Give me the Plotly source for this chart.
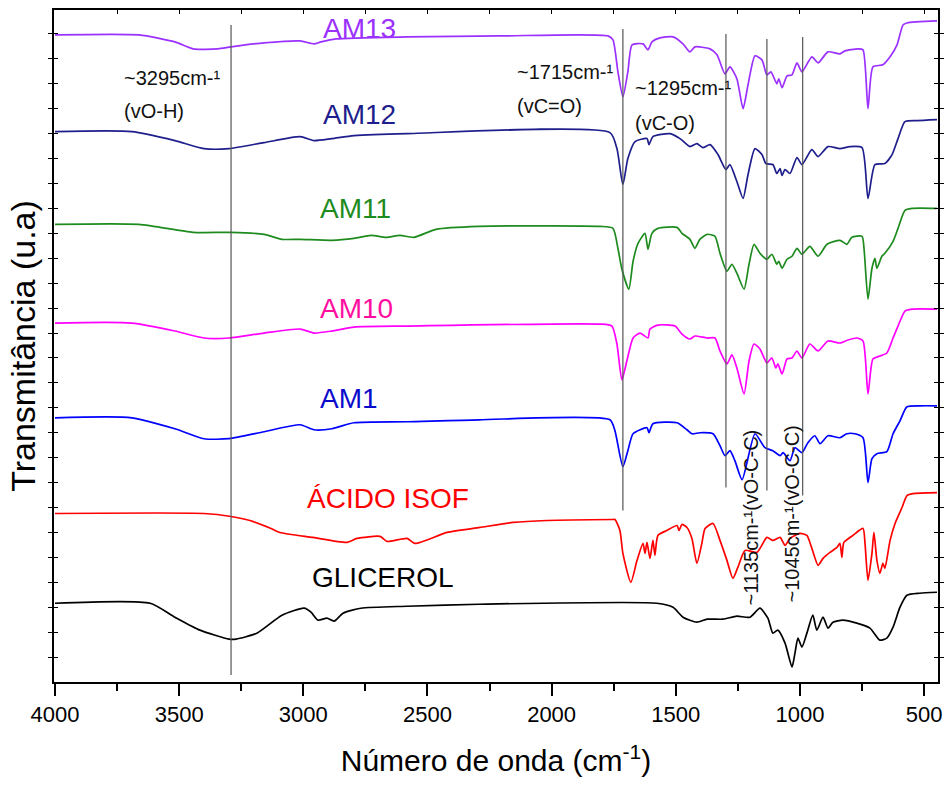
import plotly.graph_objects as go

# ---------------- data (wavenumber cm-1, transmittance in arbitrary offset units) -------------
wn_am13 = [4000, 3662, 3517, 3444, 3344, 3291, 3158, 3013, 2957, 2929, 2868, 2582, 2208, 1773, 1753, 1733,
           1713, 1693, 1676, 1632, 1612, 1596, 1564, 1511, 1471, 1443, 1423, 1362, 1334, 1302, 1282, 1254,
           1229, 1209, 1181, 1153, 1133, 1117, 1093, 1085, 1072, 1052, 1032, 1012, 992, 952, 927, 887, 839,
           819, 766, 746, 726, 706, 666, 637, 609, 585, 569, 448]
t_am13 = [649, 649, 642, 635, 635, 637, 641, 643, 640, 642, 645, 647, 648, 648, 644, 612,
          587, 612, 639, 640, 634, 642, 646, 647, 640, 632, 637, 635, 629, 610, 617, 605,
          575, 599, 628, 624, 609, 612, 600, 605, 596, 608, 609, 621, 612, 627, 621, 632, 630,
          633, 635, 634, 575, 617, 619, 627, 639, 659, 661, 663]

wn_am12 = [4000, 3690, 3517, 3400, 3299, 3158, 3013, 2957, 2885, 2796, 2582, 1765, 1737, 1713, 1693,
           1664, 1616, 1608, 1592, 1523, 1483, 1443, 1415, 1391, 1362, 1330, 1298, 1282, 1254, 1229, 1209,
           1181, 1153, 1137, 1109, 1093, 1080, 1072, 1060, 1040, 1012, 992, 952, 927, 887, 839, 799, 750,
           726, 698, 658, 629, 605, 577, 529, 448]
t_am12 = [552, 552, 543, 535, 535, 541, 547, 543, 545, 548, 550, 551, 535, 499, 525,
          542, 545, 539, 547, 550, 545, 537, 540, 536, 539, 529, 514, 519, 502, 485, 509,
          535, 529, 520, 519, 510, 515, 508, 514, 510, 526, 519, 534, 527, 537, 535, 537, 536,
          485, 519, 520, 529, 545, 562, 563, 564]

wn_am11 = [4000, 3662, 3444, 3291, 3158, 3086, 3013, 2885, 2796, 2727, 2667, 2611, 2554, 2466, 2293,
           1805, 1753, 1733, 1717, 1689, 1672, 1652, 1624, 1612, 1596, 1572, 1495, 1475, 1443, 1423, 1403,
           1374, 1342, 1322, 1294, 1274, 1254, 1225, 1205, 1185, 1161, 1133, 1113, 1093, 1085, 1072, 1052,
           1032, 1012, 992, 960, 927, 891, 839, 811, 791, 750, 742, 726, 710, 698, 690, 670, 658, 625,
           605, 577, 549, 448]
t_am11 = [459, 459, 451, 451, 449, 444, 444, 443, 445, 448, 446, 448, 446, 454, 457,
          457, 455, 435, 414, 394, 422, 440, 450, 434, 450, 455, 456, 450, 444, 435, 444,
          449, 447, 430, 412, 419, 410, 394, 419, 439, 430, 424, 429, 419, 422, 415, 424,
          427, 435, 429, 437, 427, 439, 443, 439, 446, 447, 435, 384, 415, 425, 415, 427, 430, 442,
          455, 473, 475, 475]

wn_am10 = [4000, 3690, 3517, 3400, 3299, 3158, 3013, 2957, 2885, 2796, 2582, 1805, 1757, 1737, 1717,
           1697, 1672, 1644, 1612, 1604, 1572, 1503, 1475, 1443, 1423, 1374, 1342, 1322, 1294, 1274, 1254,
           1225, 1205, 1185, 1161, 1133, 1113, 1097, 1089, 1072, 1052, 1032, 1012, 992, 960, 927, 887, 839,
           807, 771, 746, 726, 706, 678, 650, 625, 605, 577, 549, 448]
t_am10 = [360, 360, 352, 345, 345, 350, 354, 350, 352, 356, 357, 359, 357, 339, 303,
          322, 345, 350, 345, 354, 358, 357, 349, 344, 347, 345, 345, 332, 319, 328, 315,
          289, 322, 339, 334, 320, 325, 315, 319, 309, 324, 325, 332, 325, 339, 332, 342, 340,
          343, 345, 342, 289, 324, 327, 330, 345, 357, 372, 374, 374]

wn_am1 = [4000, 3690, 3517, 3400, 3299, 3158, 3013, 2957, 2885, 2796, 2582, 2293, 1765, 1745, 1713,
          1693, 1672, 1616, 1608, 1592, 1495, 1455, 1435, 1403, 1350, 1322, 1302, 1282, 1262, 1233, 1181,
          1141, 1109, 1080, 1068, 1040, 1020, 992, 968, 940, 919, 887, 839, 811, 779, 746, 726, 710, 690,
          650, 625, 597, 569, 517, 448]
t_am1 = [265, 265, 254, 244, 244, 251, 258, 253, 254, 260, 261, 263, 263, 252, 216,
         232, 249, 255, 250, 259, 260, 253, 249, 250, 249, 237, 227, 232, 222, 203, 249,
         235, 232, 227, 230, 222, 235, 230, 240, 247, 239, 247, 245, 249, 249, 245, 200, 224, 229,
         231, 249, 262, 276, 277, 277]

wn_acido = [4000, 3400, 3291, 3215, 3130, 3094, 2961, 2824, 2784, 2691, 2663, 2582, 2550, 2421, 2289,
            2156, 2019, 1753, 1745, 1725, 1713, 1681, 1656, 1632, 1624, 1616, 1604, 1592, 1584, 1572, 1536,
            1495, 1487, 1475, 1455, 1435, 1415, 1395, 1382, 1350, 1322, 1294, 1270, 1250, 1221, 1173, 1133,
            1109, 1080, 1060, 1040, 1000, 972, 952, 927, 907, 879, 851, 839, 831, 823, 787, 746, 738, 726,
            710, 702, 690, 678, 666, 658, 637, 617, 589, 569, 545, 448]
t_acido = [169, 169, 166, 162, 154, 150, 145, 140, 144, 146, 141, 144, 139, 150, 155,
           160, 162, 163, 163, 152, 129, 100, 122, 139, 129, 140, 124, 142, 127, 147, 152,
           157, 152, 158, 155, 144, 119, 139, 154, 159, 142, 122, 104, 115, 132, 130, 145,
           142, 145, 137, 144, 149, 147, 134, 117, 124, 130, 135, 139, 125, 140, 147, 154, 139, 102,
           129, 150, 122, 109, 119, 114, 142, 159, 175, 187, 189, 190]

wn_glic = [4000, 3617, 3517, 3416, 3299, 3271, 3187, 3086, 2997, 2969, 2941, 2905, 2876, 2840, 2768,
           2582, 2293, 1576, 1511, 1471, 1415, 1374, 1310, 1254, 1201, 1161, 1129, 1109, 1089, 1060, 1032,
           1020, 1008, 992, 972, 948, 932, 907, 887, 867, 827, 771, 718, 678, 650, 625, 597, 569, 517, 448]
t_glic = [79, 79, 65, 52, 43, 43, 49, 67, 74, 70, 62, 64, 61, 69, 74,
          76, 78, 79, 75, 65, 60, 63, 63, 66, 65, 74, 64, 49, 52, 39, 15,
          29, 44, 35, 49, 67, 52, 65, 54, 60, 62, 59, 54, 42, 44, 55, 75, 87, 89, 90]

series_names = ["AM13", "AM12", "AM11", "AM10", "AM1", "ÁCIDO ISOF", "GLICEROL"]
series_wn = [wn_am13, wn_am12, wn_am11, wn_am10, wn_am1, wn_acido, wn_glic]
series_t = [t_am13, t_am12, t_am11, t_am10, t_am1, t_acido, t_glic]
series_colors = ["#9B30FF", "#1E1E8C", "#1E8B1E", "#FF00FF", "#0000FF", "#FF0000", "#000000"]
label_colors = ["#9B30FF", "#1E1E8C", "#1E8B1E", "#FF0FA0", "#0A0ACC", "#FF0000", "#000000"]
# label anchor (wavenumber, level)
label_wn = [2772, 2772, 2788, 2784, 2816, 2659, 2679]
label_t = [655, 569, 475, 375, 284, 184, 105]

# marker lines (wavenumber, bottom, top)
band_wn = [3291, 1713, 1298, 1133, 989]
band_lo = [7, 172, 195, 192, 187]
band_hi = [659, 655, 650, 645, 647]

# band annotation texts
ann_text = ["~3295cm-¹", "(vO-H)", "~1715cm-¹", "(vC=O)", "~1295cm-¹", "(vC-O)"]
ann_wn = [3730, 3730, 2148, 2148, 1672, 1672]
ann_t = [606, 573, 612, 578, 596, 561]
rot_text = ["~1135cm-¹(vO-C-C)", "~1045cm-¹(vO-C-C)"]
rot_wn = [1197, 1032]
rot_t = [165, 169]

FONT = "Liberation Sans, Arial, sans-serif"

fig = go.Figure()
for name, wn, t, c in zip(series_names, series_wn, series_t, series_colors):
    fig.add_trace(go.Scatter(x=wn, y=t, mode="lines", name=name,
                             line=dict(color=c, width=1.7, shape="spline", smoothing=0.6),
                             showlegend=False, hoverinfo="skip"))

for w, lo, hi in zip(band_wn, band_lo, band_hi):
    fig.add_trace(go.Scatter(x=[w, w], y=[lo, hi], mode="lines",
                             line=dict(color="#555555", width=1.2),
                             showlegend=False, hoverinfo="skip"))

for name, w, t, c in zip(series_names, label_wn, label_t, label_colors):
    fig.add_annotation(x=w, y=t, text=name, showarrow=False, xanchor="center", yanchor="middle",
                       font=dict(family=FONT, size=28, color=c))

for txt, w, t in zip(ann_text, ann_wn, ann_t):
    fig.add_annotation(x=w, y=t, text=txt, showarrow=False, xanchor="left", yanchor="middle",
                       font=dict(family=FONT, size=20, color="#111111"))

for txt, w, t in zip(rot_text, rot_wn, rot_t):
    fig.add_annotation(x=w, y=t, text=txt, showarrow=False, textangle=-90,
                       xanchor="center", yanchor="middle",
                       font=dict(family=FONT, size=20, color="#111111"))

fig.update_layout(
    width=950, height=787,
    margin=dict(l=54, r=12, t=8, b=105),
    paper_bgcolor="white", plot_bgcolor="white",
    font=dict(family=FONT, color="black"),
    xaxis=dict(range=[4004, 444], tickmode="linear", tick0=500, dtick=500,
               ticks="outside", ticklen=12, tickwidth=2, tickcolor="black",
               minor=dict(ticks="outside", ticklen=7, tickwidth=2, tickcolor="black", dtick=250, tick0=0),
               showline=True, linewidth=2, linecolor="black", mirror=True,
               showgrid=False, zeroline=False,
               tickfont=dict(size=22, family=FONT),
               title=dict(text="Número de onda (cm<sup>-1</sup>)", font=dict(size=30, family=FONT),
                          standoff=24)),
    xaxis2=dict(range=[4004, 444], overlaying="x", side="top", tickmode="linear", tick0=0, dtick=250,
                ticks="inside", ticklen=4, tickwidth=1, tickcolor="black", showticklabels=False,
                showgrid=False, zeroline=False, showline=False),
    yaxis=dict(range=[0, 674], showticklabels=False, tickmode="linear", tick0=0, dtick=25,
               ticks="inside", ticklen=4, tickwidth=1, tickcolor="black",
               showline=True, linewidth=2, linecolor="black", mirror="allticks",
               showgrid=False, zeroline=False,
               title=dict(text="Transmitância (u.a)", font=dict(size=34, family=FONT), standoff=6)),
)
fig.add_trace(go.Scatter(x=[2000], y=[-10], xaxis="x2", mode="markers", marker=dict(opacity=0),
                         showlegend=False, hoverinfo="skip"))

fig.write_html("out.html")
